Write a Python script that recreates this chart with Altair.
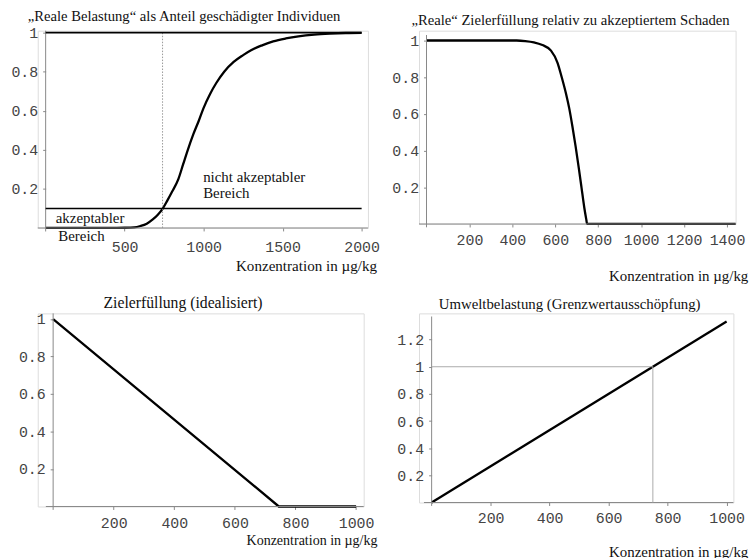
import altair as alt
import pandas as pd

# ---------------- data ----------------
# Panel 1: "Reale Belastung" (share of damaged individuals)
p1_x = [0, 400, 500, 560, 600, 640, 680, 710, 740, 770, 800, 840, 870, 900, 935, 970,
        1000, 1040, 1080, 1130, 1190, 1250, 1300, 1370, 1440, 1520, 1600, 1700, 1800, 1900, 2000]
p1_y = [0, 0, 0.001, 0.003, 0.01, 0.022, 0.045, 0.068, 0.098, 0.14, 0.185, 0.25, 0.325, 0.40,
        0.48, 0.55, 0.615, 0.685, 0.742, 0.80, 0.85, 0.885, 0.91, 0.935, 0.955, 0.97, 0.981,
        0.99, 0.995, 0.998, 0.999]
p1_hlines = [1.0, 0.1]
p1_hline_x = [0, 2000]
p1_vline_x = 740
p1_text = ["nicht akzeptabler", "Bereich", "akzeptabler", "Bereich"]
p1_text_x = [997, 997, 64, 80]
p1_text_y = [0.235, 0.152, 0.024, -0.065]

# Panel 2: "Reale" Zielerfuellung
p2_x = [0, 420, 460, 500, 540, 580, 610, 630, 650, 665, 680, 695, 710, 722, 735, 745, 748, 1440]
p2_y = [1, 1, 0.997, 0.99, 0.975, 0.945, 0.88, 0.80, 0.71, 0.63, 0.53, 0.42, 0.30, 0.20,
        0.09, 0.02, 0, 0]

# Panel 3: Zielerfuellung (idealisiert)
p3_x = [0, 745, 1000]
p3_y = [1, 0, 0]

# Panel 4: Umweltbelastung
p4_x = [0, 1000]
p4_y = [0, 1.333]
p4_ref_x = 750
p4_ref_y = 1.0

x_title = "Konzentration in µg/kg"
titles = ["„Reale Belastung“ als Anteil geschädigter Individuen",
          "„Reale“ Zielerfüllung relativ zu akzeptiertem Schaden",
          "Zielerfüllung (idealisiert)",
          "Umweltbelastung (Grenzwertausschöpfung)"]

TICK_FONT = "Liberation Mono"
SERIF = "Liberation Serif"
LBL = "datum.value == 1 ? '1' : format(datum.value, '.1f')"
AXIS_GREY = "#888"


def xaxis(values, tx, ty, fs=15, lp=6):
    return alt.Axis(values=values, format="d", title=x_title, titleX=tx, titleY=ty,
                    titleAlign="right", titleBaseline="alphabetic", titleFont=SERIF,
                    titleFontSize=fs, titleFontWeight="normal", titleColor="#111",
                    labelFont=TICK_FONT, labelFontSize=15, labelColor="#444",
                    labelPadding=lp, tickSize=3, tickColor=AXIS_GREY, domain=False,
                    grid=False, labelFlush=False, labelOverlap=False)


def yaxis(values, off):
    return alt.Axis(values=values, labelExpr=LBL, title=None, offset=off,
                    labelFont=TICK_FONT, labelFontSize=15, labelColor="#444",
                    labelPadding=5, tickSize=3, tickColor=AXIS_GREY, domain=False,
                    grid=False, labelOverlap=False, labelFlush=False)


def ttl(text, dx, dy, fs):
    return alt.TitleParams(text=text, font=SERIF, fontSize=fs, fontWeight="normal",
                           color="#111", anchor="middle", frame="group", dx=dx,
                           dy=dy, offset=10, baseline="alphabetic")


def axes_lines(X, Y, AX, AY, x_lo, x_hi, y_lo, y_hi):
    xa = alt.Chart(pd.DataFrame({"x": [x_lo], "x2": [x_hi], "y": [0]})).mark_rule(
        color=AXIS_GREY, strokeWidth=1).encode(
        x=alt.X("x:Q", scale=X, axis=AX), x2="x2:Q", y=alt.Y("y:Q", scale=Y, axis=AY))
    ya = alt.Chart(pd.DataFrame({"x": [0], "y": [y_lo], "y2": [y_hi]})).mark_rule(
        color=AXIS_GREY, strokeWidth=1).encode(
        x=alt.X("x:Q", scale=X, axis=AX), y=alt.Y("y:Q", scale=Y, axis=AY), y2="y2:Q")
    return [xa, ya]


# ---------------- panel 1 ----------------
X1 = alt.Scale(domain=[-50, 2040], nice=False, zero=False)
Y1 = alt.Scale(domain=[0, 1.01], nice=False, zero=False)
AX1 = xaxis([500, 1000, 1500, 2000], 341, 43, 15.2, 9)
AY1 = yaxis([0.2, 0.4, 0.6, 0.8, 1.0], -7.95)
d1 = pd.DataFrame({"x": p1_x, "y": p1_y})
curve1 = alt.Chart(d1).mark_line(color="black", strokeWidth=2.3, interpolate="monotone").encode(
    x=alt.X("x:Q", scale=X1, axis=AX1), y=alt.Y("y:Q", scale=Y1, axis=AY1))
hl = pd.DataFrame([{"x": p1_hline_x[0], "x2": p1_hline_x[1], "y": v} for v in p1_hlines])
hrules1 = alt.Chart(hl).mark_rule(color="black", strokeWidth=1.6).encode(
    x=alt.X("x:Q", scale=X1, axis=AX1), x2="x2:Q", y=alt.Y("y:Q", scale=Y1, axis=AY1))
vrule1 = alt.Chart(pd.DataFrame({"x": [p1_vline_x], "y": [0], "y2": [1]})).mark_rule(
    color="#999", strokeWidth=1, strokeDash=[1.5, 1.5]).encode(
    x=alt.X("x:Q", scale=X1, axis=AX1), y=alt.Y("y:Q", scale=Y1, axis=AY1), y2="y2:Q")
tx = pd.DataFrame({"x": p1_text_x, "y": p1_text_y, "t": p1_text})
texts1 = alt.Chart(tx).mark_text(font=SERIF, fontSize=15, align="left", baseline="alphabetic",
                                 color="#111").encode(
    x=alt.X("x:Q", scale=X1, axis=AX1), y=alt.Y("y:Q", scale=Y1, axis=AY1), text="t:N")
P1 = alt.layer(curve1, *axes_lines(X1, Y1, AX1, AY1, -50, 2040, -0.018, 1.01), vrule1,
               hrules1, texts1).properties(width=332.4, height=198.6,
                                           title=ttl(titles[0], -19, 20.3, 14.75))

# ---------------- panel 2 ----------------
X2 = alt.Scale(domain=[-35, 1440], nice=False, zero=False)
Y2 = alt.Scale(domain=[0, 1.0536], nice=False, zero=False)
AX2 = xaxis([200, 400, 600, 800, 1000, 1200, 1400], 331, 57)
AY2 = yaxis([0.2, 0.4, 0.6, 0.8, 1.0], -7.57)
d2 = pd.DataFrame({"x": p2_x, "y": p2_y})
line2 = alt.Chart(d2).mark_line(color="black", strokeWidth=2.3, interpolate="monotone").encode(
    x=alt.X("x:Q", scale=X2, axis=AX2), y=alt.Y("y:Q", scale=Y2, axis=AY2))
P2 = alt.layer(line2, *axes_lines(X2, Y2, AX2, AY2, -35, 1440, -0.018, 1.03)).properties(
    width=318.7, height=194.6, title=ttl(titles[1], -6.8, 18.6, 14.75))

# ---------------- panel 3 ----------------
X3 = alt.Scale(domain=[-50.8, 1025], nice=False, zero=False)
Y3 = alt.Scale(domain=[0, 1.03], nice=False, zero=False)
AX3 = xaxis([200, 400, 600, 800, 1000], 341.5, 38, 14.1)
AY3 = yaxis([0.2, 0.4, 0.6, 0.8, 1.0], -15.5)
d3 = pd.DataFrame({"x": p3_x, "y": p3_y})
line3 = alt.Chart(d3).mark_line(color="black", strokeWidth=2.3).encode(
    x=alt.X("x:Q", scale=X3, axis=AX3), y=alt.Y("y:Q", scale=Y3, axis=AY3))
P3 = alt.layer(line3, *axes_lines(X3, Y3, AX3, AY3, -24, 1025, -0.018, 1.03)).properties(
    width=328.1, height=194.4, title=ttl(titles[2], -17.8, 21.5, 15.8))

# ---------------- panel 4 ----------------
X4 = alt.Scale(domain=[-42.8, 1023], nice=False, zero=False)
Y4 = alt.Scale(domain=[0, 1.393], nice=False, zero=False)
AX4 = xaxis([200, 400, 600, 800, 1000], 331, 54, 15, 5)
AY4 = yaxis([0.2, 0.4, 0.6, 0.8, 1.0, 1.2], -12.7)
d4 = pd.DataFrame({"x": p4_x, "y": p4_y})
line4 = alt.Chart(d4).mark_line(color="black", strokeWidth=2.3).encode(
    x=alt.X("x:Q", scale=X4, axis=AX4), y=alt.Y("y:Q", scale=Y4, axis=AY4))
ref4h = alt.Chart(pd.DataFrame({"x": [0], "x2": [p4_ref_x], "y": [p4_ref_y]})).mark_rule(
    color="#aaa", strokeWidth=1).encode(x=alt.X("x:Q", scale=X4, axis=AX4), x2="x2:Q",
                                        y=alt.Y("y:Q", scale=Y4, axis=AY4))
ref4v = alt.Chart(pd.DataFrame({"x": [p4_ref_x], "y": [0], "y2": [p4_ref_y]})).mark_rule(
    color="#aaa", strokeWidth=1).encode(x=alt.X("x:Q", scale=X4, axis=AX4),
                                        y=alt.Y("y:Q", scale=Y4, axis=AY4), y2="y2:Q")
P4 = alt.layer(line4, *axes_lines(X4, Y4, AX4, AY4, -26, 1023, -0.025, 1.37),
               ref4h, ref4v).properties(width=316.5, height=190.4,
                                        title=ttl(titles[3], -6.6, 20, 14.9))

# ---------------- layout ----------------
chart = alt.concat(P1, P2, P3, P4, columns=2, bounds="flush",
                   spacing={"row": 85.6, "column": 50.8}).properties(
    padding={"left": 10, "top": 7, "right": 0, "bottom": 0}
).configure_view(stroke=None).configure(background="white")

chart.save("out.html", embed_options={"renderer": "svg", "actions": False})
